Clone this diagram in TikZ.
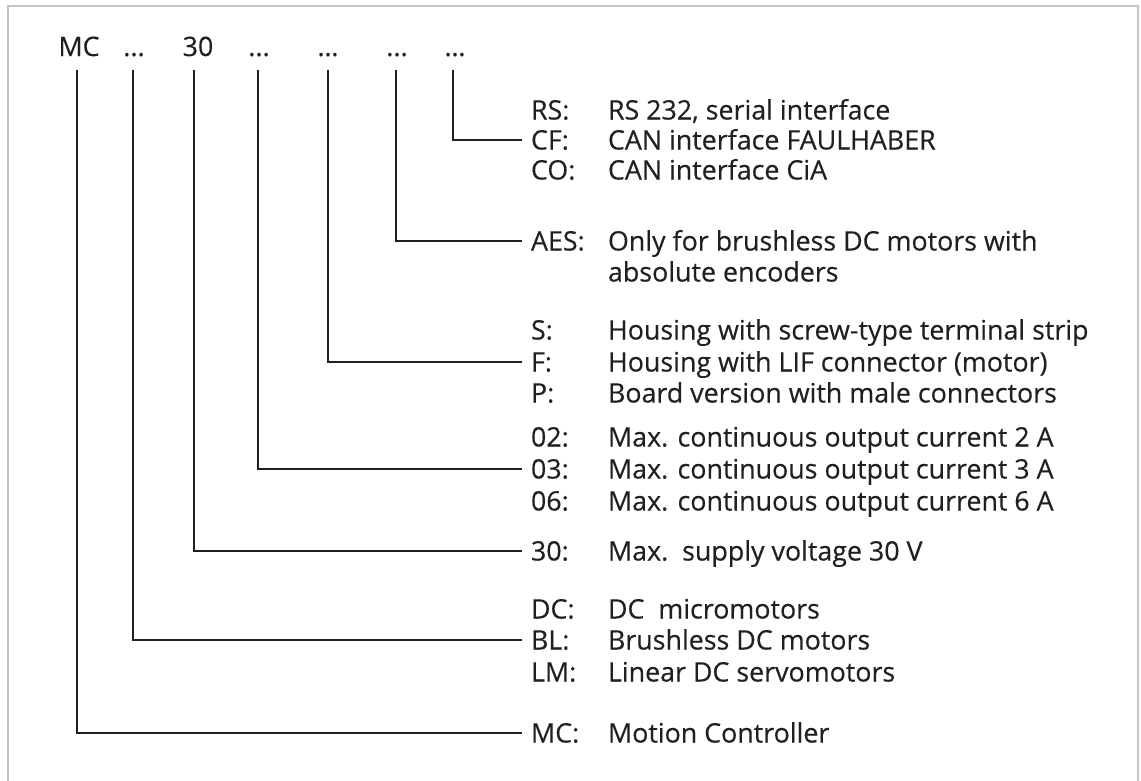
\documentclass[tikz,border=0pt]{standalone}
\usepackage{fontspec}
\setmainfont{Open Sans}[FakeBold=0.35]
\definecolor{ink}{HTML}{231F20}
\definecolor{frame}{HTML}{C4C4C4}
\begin{document}
\begin{tikzpicture}[x=1pt,y=-1pt,
  every node/.style={inner sep=0pt, outer sep=0pt, text=ink, font=\fontsize{26.8}{31}\selectfont, text height=19pt, text depth=0pt},
  top/.style={anchor=base},
  lab/.style={anchor=west},
  desc/.style={anchor=west},
  conn/.style={draw=ink, line width=2pt}]
\useasboundingbox (0,0) rectangle (1141,780);
\draw[frame, line width=1.2pt] (8,800) -- (8,6) -- (1138,6) -- (1138,800);

% top code
\node[top] (t1) at (79,56) {MC};
\node[top] (t2) at (134,56) {...};
\node[top] (t3) at (198,56) {30};
\node[top] (t4) at (259,56) {...};
\node[top] (t5) at (328,56) {…};
\node[top] (t6) at (397,56) {...};
\node[top] (t7) at (455,56) {…};

% labels
\node[lab] (lRS) at (531,110) {RS:};
\node[lab] (lCF) at (531,140) {CF:};
\node[lab] (lCO) at (531,170) {CO:};
\node[lab] (lAES) at (531,241) {AES:};
\node[lab] (lS) at (531,330) {S:};
\node[lab] (lF) at (531,362) {F:};
\node[lab] (lP) at (531,393) {P:};
\node[lab] (l02) at (531,437) {02:};
\node[lab] (l03) at (531,469) {03:};
\node[lab] (l06) at (531,501) {06:};
\node[lab] (l30) at (531,551) {30:};
\node[lab] (lDC) at (531,609) {DC:};
\node[lab] (lBL) at (531,640) {BL:};
\node[lab] (lLM) at (531,672) {LM:};
\node[lab] (lMC) at (531,733) {MC:};

% descriptions
\node[desc] (dRS) at (608,110) {RS 232, serial interface};
\node[desc] (dCF) at (608,140) {CAN interface FAULHABER};
\node[desc] (dCO) at (608,170) {CAN interface CiA};
\node[desc] (dAES) at (608,241) {Only for brushless DC motors with};
\node[desc] (dAESb) at (608,272) {absolute encoders};
\node[desc] (dS) at (608,330) {Housing with screw-type terminal strip};
\node[desc] (dF) at (608,362) {Housing with LIF connector (motor)};
\node[desc] (dP) at (608,393) {Board version with male connectors};
\node[desc] (d02) at (608,437) {Max. continuous output current 2 A};
\node[desc] (d03) at (608,469) {Max. continuous output current 3 A};
\node[desc] (d06) at (608,501) {Max. continuous output current 6 A};
\node[desc] (d30) at (608,551) {Max.\ \ supply voltage 30 V};
\node[desc] (dDC) at (608,609) {DC\ \ micromotors};
\node[desc] (dBL) at (608,640) {Brushless DC motors};
\node[desc] (dLM) at (608,672) {Linear DC servomotors};
\node[desc] (dMC) at (608,733) {Motion Controller};

% connectors
\draw[conn] ([xshift=-2pt,yshift=-14pt]t1.south) |- ([xshift=-9pt]lMC.west);
\draw[conn] ([xshift=-1pt,yshift=-14pt]t2.south) |- ([xshift=-9pt]lBL.west);
\draw[conn] ([xshift=-4pt,yshift=-14pt]t3.south) |- ([xshift=-9pt]l30.west);
\draw[conn] ([xshift=-1pt,yshift=-14pt]t4.south) |- ([xshift=-9pt]l03.west);
\draw[conn] ([yshift=-14pt]t5.south) |- ([xshift=-9pt]lF.west);
\draw[conn] ([xshift=-1pt,yshift=-14pt]t6.south) |- ([xshift=-9pt]lAES.west);
\draw[conn] ([xshift=-2pt,yshift=-14pt]t7.south) |- ([xshift=-9pt]lCF.west);
\end{tikzpicture}
\end{document}
